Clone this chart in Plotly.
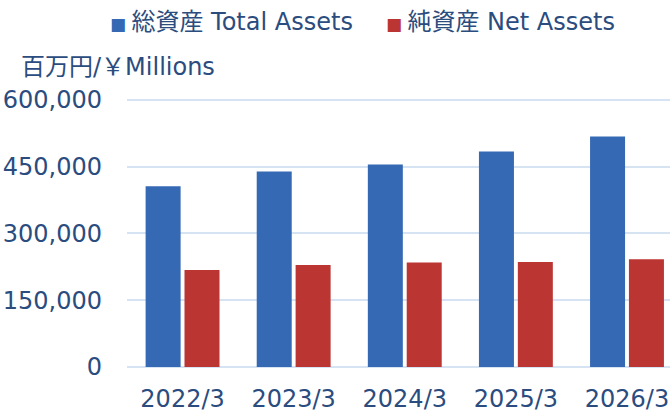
import plotly.graph_objects as go

categories = ["2022/3", "2023/3", "2024/3", "2025/3", "2026/3"]
total_assets = [406000, 439000, 455000, 484000, 518000]
net_assets = [218000, 229000, 235000, 236000, 242000]
y_ticks = [0, 150000, 300000, 450000, 600000]
y_tick_labels = ["0", "150,000", "300,000", "450,000", "600,000"]
series_names = ["総資産 Total Assets", "純資産 Net Assets"]
series_colors = ["#3569b3", "#bb3532"]

TEXT = "#2b4c7e"
FONT = "DejaVu Sans, Noto Sans CJK JP, sans-serif"

# plot area in page pixels
PL, PR = 127, 670
Y0, Y600 = 367, 100
YMAX = 620000
PT = Y0 - (Y0 - Y600) * YMAX / 600000

W, H = 670, 414
L = PL
R = W - PR
T = PT
B = H - Y0
PW, PH = W - L - R, H - T - B


def px_x(x):
    return (x - PL) / PW


def px_y(y):
    return (Y0 - y) / PH


fig = go.Figure()
fig.add_trace(go.Bar(x=categories, y=total_assets, name=series_names[0],
                     marker=dict(color=series_colors[0], line=dict(width=0))))
fig.add_trace(go.Bar(x=categories, y=net_assets, name=series_names[1],
                     marker=dict(color=series_colors[1], line=dict(width=0))))

legend_ann = []
for name, color, xpos in zip(series_names, series_colors, [108, 384]):
    legend_ann.append(dict(
        text=f'<span style="color:{color};font-size:17px">■ </span>{name}',
        xref="paper", yref="paper", x=px_x(xpos), y=px_y(22),
        xanchor="left", yanchor="middle", showarrow=False,
        font=dict(size=24, color=TEXT)))

fig.update_layout(
    width=W, height=H,
    margin=dict(l=L, r=R, t=T, b=B, autoexpand=False),
    paper_bgcolor="white", plot_bgcolor="white",
    font=dict(family=FONT, size=24, color=TEXT),
    barmode="group", bargap=0.3, bargroupgap=0.1,
    showlegend=False,
    xaxis=dict(range=[-0.5, 4.387], showgrid=False, zeroline=False, showline=False,
               ticks="", tickfont=dict(size=24, color=TEXT), ticklabelstandoff=15),
    yaxis=dict(range=[0, YMAX], tickvals=y_ticks, ticktext=y_tick_labels,
               showgrid=True, gridcolor="#d6e3f3", gridwidth=2,
               zeroline=True, zerolinecolor="#d6e3f3", zerolinewidth=2,
               showline=False, ticks="", tickfont=dict(size=24, color=TEXT),
               ticklabelstandoff=24),
    annotations=legend_ann + [dict(text="百万円/￥Millions", xref="paper", yref="paper",
                      x=px_x(19), y=px_y(67), xanchor="left",
                      yanchor="middle", showarrow=False,
                      font=dict(size=24, color=TEXT))],
)

fig.write_html("out.html",
               config={"displayModeBar": False},
               post_script="document.body.style.margin='0';document.body.style.padding='0';")
